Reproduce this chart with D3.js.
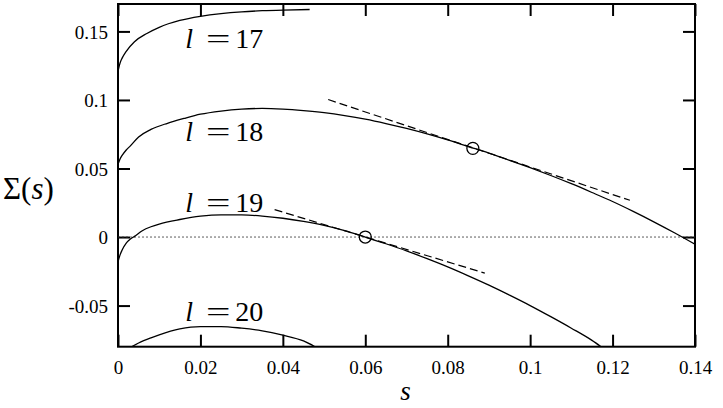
<!DOCTYPE html>
<html>
<head>
<meta charset="UTF-8">
<script src="https://d3js.org/d3.v7.min.js"></script>
</head>
<body style="margin:0">
<svg width="723" height="408" font-family="Liberation Serif"></svg>
<script>
// curve data
const s17 = [0, 0.0005, 0.001, 0.002, 0.004, 0.007, 0.01, 0.015, 0.02, 0.025, 0.03, 0.035, 0.04, 0.0465];
const sigma17 = [0.121, 0.127, 0.1305, 0.1355, 0.1425, 0.1485, 0.153, 0.158, 0.161, 0.163, 0.1643, 0.1651, 0.1656, 0.166];

const s18 = [0, 0.0005, 0.001, 0.002, 0.003, 0.005, 0.008, 0.012, 0.016, 0.02, 0.025, 0.03, 0.035, 0.04, 0.045, 0.05,
             0.055, 0.06, 0.065, 0.07, 0.075, 0.08, 0.085, 0.09, 0.095, 0.1, 0.105, 0.11, 0.115, 0.12, 0.125, 0.13, 0.135, 0.14];
const sigma18 = [0.053, 0.057, 0.0595, 0.0635, 0.0665, 0.073, 0.0785, 0.083, 0.0865, 0.0896, 0.0919, 0.0933, 0.0938, 0.0933, 0.0922, 0.0907,
                 0.0886, 0.0860, 0.0828, 0.0792, 0.0752, 0.0708, 0.0660, 0.0612, 0.0560, 0.0506, 0.0449, 0.0389, 0.0325, 0.0259, 0.0187, 0.0111, 0.0031, -0.0053];

const s19 = [0, 0.0005, 0.001, 0.002, 0.003, 0.004, 0.006, 0.008, 0.01, 0.015, 0.02, 0.025, 0.03, 0.035, 0.04, 0.045, 0.05,
             0.055, 0.06, 0.065, 0.07, 0.075, 0.08, 0.085, 0.09, 0.095, 0.1, 0.105, 0.11, 0.115, 0.1172];
const sigma19 = [-0.018, -0.013, -0.0095, -0.0045, -0.0015, 0.0005, 0.0048, 0.0075, 0.0095, 0.0128, 0.0152, 0.0162, 0.0161, 0.0153, 0.0137, 0.0114, 0.0085,
                 0.0047, 0.0, -0.0049, -0.0101, -0.0158, -0.0218, -0.0283, -0.0351, -0.0424, -0.0500, -0.0581, -0.0665, -0.0754, -0.0800];

const s20 = [0.0033, 0.005, 0.008, 0.01, 0.015, 0.02, 0.025, 0.03, 0.035, 0.04, 0.045, 0.0478];
const sigma20 = [-0.080, -0.0773, -0.0735, -0.0713, -0.0670, -0.0653, -0.0653, -0.0665, -0.0684, -0.0716, -0.0758, -0.0800];

// dashed tangents at the marked points
const tangent18S = [0.051, 0.1242];
const tangent18Sigma = [0.1003, 0.0268];
const tangent19S = [0.038, 0.089];
const tangent19Sigma = [0.020, -0.0263];

// open circles
const markS = [0.0861, 0.06];
const markSigma = [0.0647, 0];

// curve labels
const curveNames = ["17", "18", "19", "20"];
const labelS = [0.0163, 0.0163, 0.0163, 0.0163];
const labelSigma = [0.1377, 0.0699, 0.0184, -0.0613];

// axes
const xTicks = [0, 0.02, 0.04, 0.06, 0.08, 0.1, 0.12, 0.14];
const yTicks = [-0.05, 0, 0.05, 0.1, 0.15];
const xDomain = [0, 0.14];
const yDomain = [-0.08, 0.17];

const FONT = '"Liberation Serif"';

const svg = d3.select("svg");
const margin = {top: 4, right: 28, bottom: 61.3, left: 118};
const width = 723, height = 408;

const x = d3.scaleLinear().domain(xDomain).range([margin.left, width - margin.right]);
const y = d3.scaleLinear().domain(yDomain).range([height - margin.bottom, margin.top]);

const fmt = d => d === 0 ? "0" : String(d);

// clip for curves
svg.append("defs").append("clipPath").attr("id", "plot")
  .append("rect")
  .attr("x", x(xDomain[0])).attr("y", y(yDomain[1]))
  .attr("width", x(xDomain[1]) - x(xDomain[0]))
  .attr("height", y(yDomain[0]) - y(yDomain[1]));

// axes with inward ticks on all four sides
const tickLen = 12;
function styleAxis(g) {
  g.attr("font-family", "Liberation Serif").attr("font-size", 19);
  g.select(".domain").remove();
  g.selectAll(".tick line").attr("stroke", "#000").attr("stroke-width", 2);
  g.selectAll(".tick text").style("font-family", FONT);
}
svg.append("g")
  .attr("transform", `translate(0,${y(yDomain[0])})`)
  .call(d3.axisBottom(x).tickValues(xTicks).tickFormat(fmt).tickSizeInner(-tickLen).tickSizeOuter(0).tickPadding(14))
  .call(styleAxis);
svg.append("g")
  .attr("transform", `translate(0,${y(yDomain[1])})`)
  .call(d3.axisTop(x).tickValues(xTicks).tickFormat("").tickSizeInner(-tickLen).tickSizeOuter(0))
  .call(styleAxis);
svg.append("g")
  .attr("transform", `translate(${x(xDomain[0])},0)`)
  .call(d3.axisLeft(y).tickValues(yTicks).tickFormat(fmt).tickSizeInner(-tickLen).tickSizeOuter(0).tickPadding(10))
  .call(styleAxis)
  .selectAll(".tick text").attr("dy", "0.36em");
svg.append("g")
  .attr("transform", `translate(${x(xDomain[1])},0)`)
  .call(d3.axisRight(y).tickValues(yTicks).tickFormat("").tickSizeInner(-tickLen).tickSizeOuter(0))
  .call(styleAxis);

// frame
svg.append("rect")
  .attr("x", x(xDomain[0])).attr("y", y(yDomain[1]))
  .attr("width", x(xDomain[1]) - x(xDomain[0]))
  .attr("height", y(yDomain[0]) - y(yDomain[1]))
  .attr("fill", "none").attr("stroke", "#000").attr("stroke-width", 2);

const plot = svg.append("g").attr("clip-path", "url(#plot)");

// dotted zero line
plot.append("line")
  .attr("x1", x(xDomain[0])).attr("x2", x(xDomain[1]))
  .attr("y1", y(0)).attr("y2", y(0))
  .attr("stroke", "#333").attr("stroke-width", 0.8).attr("stroke-dasharray", "2,2");

const line = d3.line()
  .x(d => x(d[0]))
  .y(d => y(d[1]))
  .curve(d3.curveMonotoneX);

const curves = [[s17, sigma17], [s18, sigma18], [s19, sigma19], [s20, sigma20]];
plot.selectAll(".curve")
  .data(curves.map(([s, v]) => s.map((d, i) => [d, v[i]])))
  .enter().append("path")
  .attr("class", "curve")
  .attr("d", line)
  .attr("fill", "none")
  .attr("stroke", "#000")
  .attr("stroke-width", 1.3);

const tangents = [[tangent18S, tangent18Sigma], [tangent19S, tangent19Sigma]];
plot.selectAll(".tangent")
  .data(tangents.map(([s, v]) => s.map((d, i) => [d, v[i]])))
  .enter().append("path")
  .attr("class", "tangent")
  .attr("d", d3.line().x(d => x(d[0])).y(d => y(d[1])))
  .attr("fill", "none")
  .attr("stroke", "#000")
  .attr("stroke-width", 1.2)
  .attr("stroke-dasharray", "8,4");

plot.selectAll(".mark")
  .data(markS.map((d, i) => [d, markSigma[i]]))
  .enter().append("circle")
  .attr("cx", d => x(d[0])).attr("cy", d => y(d[1]))
  .attr("r", 6)
  .attr("fill", "none").attr("stroke", "#000").attr("stroke-width", 1.3);

// curve labels  l = 17 ...
const labels = svg.selectAll(".lab")
  .data(curveNames.map((n, i) => ({n, s: labelS[i], v: labelSigma[i]})))
  .enter().append("g")
  .attr("transform", d => `translate(${x(d.s)},${y(d.v)})`);
labels.append("text").attr("x", 0).style("font-family", FONT).attr("font-size", 28).style("font-style", "italic").text("l");
labels.append("text").attr("transform", "scale(1.55,1)").attr("x", 13.5).style("font-family", FONT).attr("font-size", 28).text("=");
labels.append("text").attr("x", 50).style("font-family", FONT).attr("font-size", 28).text(d => d.n);

// axis titles
svg.append("text")
  .attr("x", (x(xDomain[0]) + x(xDomain[1])) / 2 - 1)
  .attr("y", 400)
  .attr("text-anchor", "middle")
  .style("font-family", FONT)
  .attr("font-size", 27)
  .style("font-style", "italic")
  .text("s");

const yTitle = svg.append("text")
  .attr("x", 3)
  .attr("y", 199)
  .style("font-family", FONT)
  .attr("font-size", 31);
yTitle.append("tspan").text("Σ(");
yTitle.append("tspan").style("font-style", "italic").text("s");
yTitle.append("tspan").text(")");
</script>
</body>
</html>
